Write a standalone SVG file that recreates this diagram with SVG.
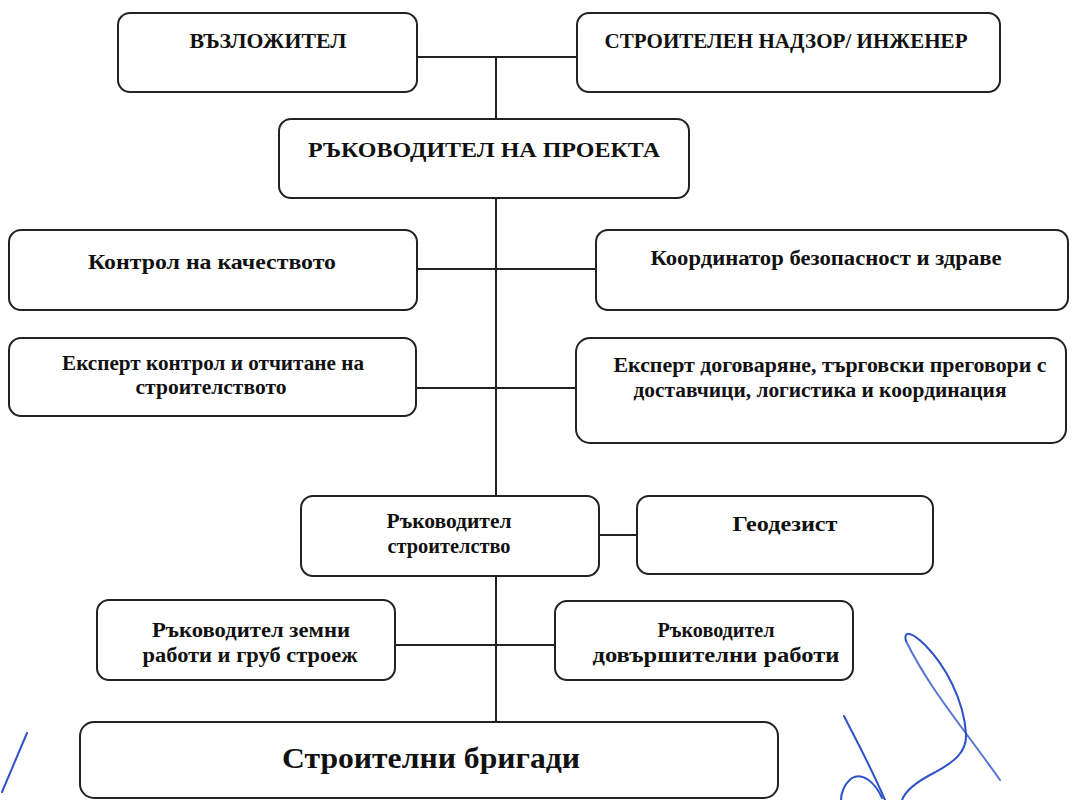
<svg xmlns="http://www.w3.org/2000/svg" width="1076" height="800" viewBox="0 0 1076 800">
<style>
.box{fill:#fff;stroke:#222;stroke-width:2}
.ln{stroke:#222;stroke-width:2;fill:none}
text{font-family:"Liberation Serif","Times New Roman",serif;font-weight:bold;fill:#111;text-anchor:middle}
.t20{font-size:20px}
.t21{font-size:21px}
.t22{font-size:22px}
.t30{font-size:30px}
.sig{fill:none;stroke:#2f52c8;stroke-width:2;stroke-linecap:round;stroke-linejoin:round}
</style>
<rect width="1076" height="800" fill="#fff"/>
<g id="connectors">
<line class="ln" x1="496" y1="57" x2="496" y2="119"/>
<line class="ln" x1="496" y1="198" x2="496" y2="496"/>
<line class="ln" x1="496" y1="576" x2="496" y2="722"/>
<line class="ln" x1="417" y1="57" x2="577" y2="57"/>
<line class="ln" x1="417" y1="269" x2="596" y2="269"/>
<line class="ln" x1="416" y1="388" x2="576" y2="388"/>
<line class="ln" x1="599" y1="535" x2="637" y2="535"/>
<line class="ln" x1="395" y1="645" x2="555" y2="645"/>
</g>
<g id="vazlozhitel">
<rect class="box" x="118" y="13" width="299" height="79" rx="12"/>
<text class="t20" x="268" y="48" textLength="157" lengthAdjust="spacingAndGlyphs">ВЪЗЛОЖИТЕЛ</text>
</g>
<g id="nadzor">
<rect class="box" x="577" y="13" width="423" height="79" rx="12"/>
<text class="t20" x="786" y="48" textLength="363" lengthAdjust="spacingAndGlyphs">СТРОИТЕЛЕН НАДЗОР/ ИНЖЕНЕР</text>
</g>
<g id="rakovoditel-proekt">
<rect class="box" x="279" y="119" width="410" height="79" rx="12"/>
<text class="t20" x="484" y="157" textLength="352" lengthAdjust="spacingAndGlyphs">РЪКОВОДИТЕЛ НА ПРОЕКТА</text>
</g>
<g id="kontrol-kachestvo">
<rect class="box" x="9" y="230" width="408" height="80" rx="12"/>
<text class="t22" x="212" y="269" textLength="248" lengthAdjust="spacingAndGlyphs">Контрол на качеството</text>
</g>
<g id="koordinator">
<rect class="box" x="596" y="230" width="472" height="80" rx="12"/>
<text class="t20" x="826" y="265" textLength="351" lengthAdjust="spacingAndGlyphs">Координатор безопасност и здраве</text>
</g>
<g id="ekspert-kontrol">
<rect class="box" x="9" y="338" width="407" height="78" rx="12"/>
<text class="t20" x="213" y="370" textLength="302" lengthAdjust="spacingAndGlyphs">Експерт контрол и отчитане на</text>
<text class="t20" x="211" y="394" textLength="151" lengthAdjust="spacingAndGlyphs">строителството</text>
</g>
<g id="ekspert-dogovaryane">
<rect class="box" x="576" y="338" width="490" height="105" rx="14"/>
<text class="t20" x="830" y="372" textLength="433" lengthAdjust="spacingAndGlyphs">Експерт договаряне, търговски преговори с</text>
<text class="t20" x="820" y="397" textLength="373" lengthAdjust="spacingAndGlyphs">доставчици, логистика и координация</text>
</g>
<g id="rakovoditel-stroitelstvo">
<rect class="box" x="301" y="496" width="298" height="80" rx="12"/>
<text class="t20" x="449" y="528" textLength="125" lengthAdjust="spacingAndGlyphs">Ръководител</text>
<text class="t20" x="449" y="553" textLength="123" lengthAdjust="spacingAndGlyphs">строителство</text>
</g>
<g id="geodezist">
<rect class="box" x="637" y="496" width="296" height="78" rx="12"/>
<text class="t21" x="785" y="531" textLength="105" lengthAdjust="spacingAndGlyphs">Геодезист</text>
</g>
<g id="zemni-raboti">
<rect class="box" x="97" y="600" width="298" height="80" rx="12"/>
<text class="t20" x="251" y="637" textLength="198" lengthAdjust="spacingAndGlyphs">Ръководител земни</text>
<text class="t20" x="250" y="662" textLength="215" lengthAdjust="spacingAndGlyphs">работи и груб строеж</text>
</g>
<g id="dovarshitelni">
<rect class="box" x="555" y="601" width="298" height="79" rx="12"/>
<text class="t20" x="716" y="637" textLength="117" lengthAdjust="spacingAndGlyphs">Ръководител</text>
<text class="t20" x="716" y="662" textLength="247" lengthAdjust="spacingAndGlyphs">довършителни работи</text>
</g>
<g id="brigadi">
<rect class="box" x="80" y="722" width="698" height="76" rx="14"/>
<text class="t30" x="431" y="768" textLength="298" lengthAdjust="spacingAndGlyphs">Строителни бригади</text>
</g>
<g id="signatures">
<path class="sig" d="M2 792 L27 733"/>
<path class="sig" d="M906 641 C930 690 965 730 1000 780" stroke-width="1.5" opacity="0.8"/>
<path class="sig" d="M906 641 C903 630 912 632 925 645 C945 665 964 700 966 734 C967 752 955 762 930 775 C915 783 905 792 902 800"/>
<path class="sig" d="M844 716 C856 740 870 765 885 800"/>
<path class="sig" d="M882 798 C875 782 862 772 852 778 C843 785 841 795 841 800"/>
</g>
</svg>
